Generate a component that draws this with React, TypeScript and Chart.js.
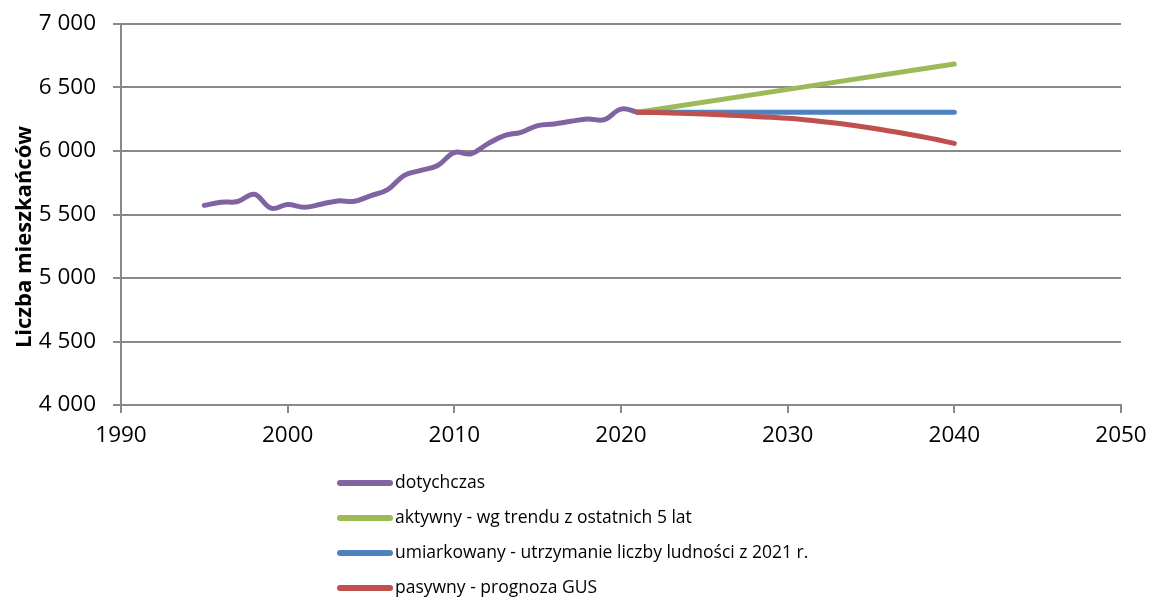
import React, { useEffect, useRef } from "react";
import { Chart, registerables } from "chart.js";

Chart.register(...registerables);

// Historical population (1995–2021)
const histYears = [1995, 1996, 1997, 1998, 1999, 2000, 2001, 2002, 2003, 2004, 2005, 2006, 2007, 2008, 2009, 2010, 2011, 2012, 2013, 2014, 2015, 2016, 2017, 2018, 2019, 2020, 2021];
const histValues = [5572, 5597, 5602, 5659, 5550, 5578, 5557, 5581, 5607, 5604, 5649, 5696, 5808, 5847, 5886, 5988, 5978, 6056, 6121, 6147, 6200, 6213, 6234, 6252, 6247, 6330, 6305];

// Scenario: active – trend of the last 5 years
const activeYears = [2021, 2040];
const activeValues = [6305, 6685];

// Scenario: moderate – population kept at the 2021 level
const moderateYears = [2021, 2040];
const moderateValues = [6305, 6305];

// Scenario: passive – GUS projection
const passiveYears = [2021, 2022, 2023, 2024, 2025, 2026, 2027, 2028, 2029, 2030, 2031, 2032, 2033, 2034, 2035, 2036, 2037, 2038, 2039, 2040];
const passiveValues = [6305, 6303, 6300, 6296, 6291, 6285, 6279, 6272, 6265, 6257, 6246, 6233, 6218, 6200, 6181, 6160, 6138, 6114, 6088, 6060];

const seriesLabels = [
  "dotychczas",
  "aktywny - wg trendu z ostatnich 5 lat",
  "umiarkowany - utrzymanie liczby ludności z 2021 r.",
  "pasywny - prognoza GUS",
];
const seriesColors = ["#8064A2", "#9BBB59", "#4F81BD", "#C0504D"];

const yAxisTitle = "Liczba mieszkańców";

const FONT = "'Open Sans', 'DejaVu Sans', sans-serif";
const GRID = "#898989";

const toPoints = (xs: number[], ys: number[]) => xs.map((x, i) => ({ x, y: ys[i] }));

const formatThousands = (v: number) =>
  String(Math.round(v)).replace(/\B(?=(\d{3})+(?!\d))/g, " ");

// Vertical legend under the plot plus the rotated y-axis title
const decorations = {
  id: "decorations",
  afterDraw(chart: Chart) {
    const ctx = chart.ctx;
    ctx.save();
    chart.data.datasets.forEach((ds: any, i: number) => {
      const y = 483 + i * 35;
      ctx.strokeStyle = ds.borderColor;
      ctx.lineWidth = 6;
      ctx.lineCap = "round";
      ctx.beginPath();
      ctx.moveTo(340, y);
      ctx.lineTo(390, y);
      ctx.stroke();
      ctx.fillStyle = "#000";
      ctx.font = `17.5px ${FONT}`;
      ctx.textAlign = "left";
      ctx.textBaseline = "middle";
      ctx.fillText(ds.label, 395, y);
    });
    ctx.translate(25, 237);
    ctx.rotate(-Math.PI / 2);
    ctx.font = `bold 22px ${FONT}`;
    ctx.fillStyle = "#000";
    ctx.textAlign = "center";
    ctx.textBaseline = "middle";
    ctx.fillText(yAxisTitle, 0, 0);
    ctx.restore();
  },
};

export default function App() {
  const canvasRef = useRef<HTMLCanvasElement | null>(null);

  useEffect(() => {
    document.body.style.margin = "0";
    const canvas = canvasRef.current;
    if (!canvas) return;

    const mk = (i: number, data: { x: number; y: number }[], order: number) => ({
      label: seriesLabels[i],
      data,
      borderColor: seriesColors[i],
      backgroundColor: seriesColors[i],
      borderWidth: 5,
      borderCapStyle: "round" as const,
      borderJoinStyle: "round" as const,
      pointRadius: 0,
      tension: 0.4,
      fill: false,
      order,
    });

    const chart = new Chart(canvas, {
      type: "line",
      data: {
        datasets: [
          mk(0, toPoints(histYears, histValues), 3),
          mk(1, toPoints(activeYears, activeValues), 2),
          mk(2, toPoints(moderateYears, moderateValues), 1),
          mk(3, toPoints(passiveYears, passiveValues), 0),
        ],
      },
      options: {
        responsive: false,
        animation: false,
        layout: { padding: { top: 24, right: 30, bottom: 0, left: 0 } },
        plugins: {
          legend: { display: false },
          tooltip: { enabled: false },
        },
        scales: {
          x: {
            type: "linear",
            min: 1990,
            max: 2050,
            afterFit: (scale: any) => {
              scale.height = 194;
              scale.paddingLeft = 0;
              scale.paddingRight = 0;
            },
            ticks: {
              stepSize: 10,
              color: "#000",
              font: { family: FONT, size: 22.5 },
              padding: 9,
              callback: (v: any) => String(v),
            },
            grid: {
              drawOnChartArea: false,
              drawTicks: true,
              tickLength: 8,
              color: GRID,
              lineWidth: 2,
            },
            border: { display: true, color: GRID, width: 2 },
          },
          y: {
            type: "linear",
            min: 4000,
            max: 7000,
            afterFit: (scale: any) => {
              scale.width = 121;
              scale.paddingTop = 0;
              scale.paddingBottom = 0;
            },
            ticks: {
              stepSize: 500,
              color: "#000",
              font: { family: FONT, size: 22.5 },
              padding: 17,
              callback: (v: any) => formatThousands(Number(v)),
            },
            grid: {
              drawOnChartArea: true,
              drawTicks: true,
              tickLength: 8,
              color: GRID,
              lineWidth: 2,
            },
            border: { display: true, color: GRID, width: 2 },
          },
        },
      },
      plugins: [decorations],
    });

    return () => chart.destroy();
  }, []);

  return <canvas ref={canvasRef} width={1151} height={599} style={{ display: "block" }} />;
}
